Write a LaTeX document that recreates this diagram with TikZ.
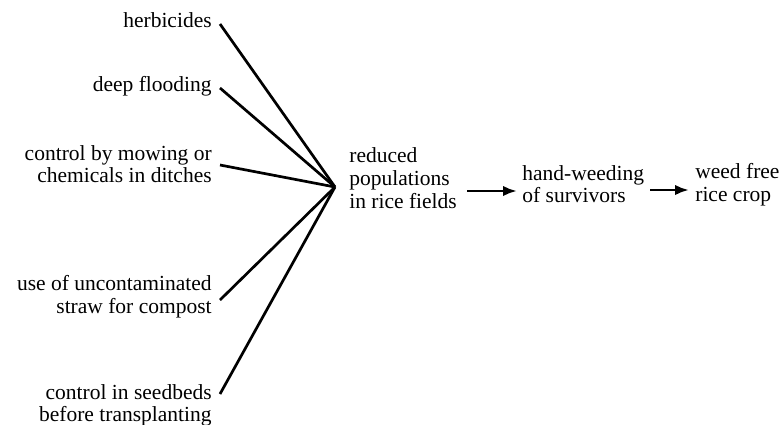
\documentclass[tikz,border=0pt]{standalone}
\usepackage{fontspec}
\setmainfont{Liberation Serif}
\usetikzlibrary{arrows.meta}
\begin{document}
\begin{tikzpicture}[x=1pt,y=-1pt,line width=2.7pt,>={Latex[length=14pt,width=10.5pt]},
font=\fontsize{21.5}{22.7}\selectfont,
cause/.style={anchor=east,align=right,inner xsep=7pt,inner ysep=0pt},
stage/.style={anchor=west,align=left,inner sep=0pt}]
\useasboundingbox (0,0) rectangle (780,424);
% causes on the left
\node[cause] (herb) at (220,20) {herbicides};
\node[cause] (flood) at (220,86) {deep flooding};
\node[cause] (ditch) at (220,164) {control by mowing or\\chemicals in ditches};
\node[cause] (straw) at (220,297) {use of uncontaminated\\straw for compost};
\node[cause] (seed) at (220,405.5) {control in seedbeds\\before transplanting};
\coordinate (hub) at (335,187);
% stages
\node[stage] (red) at (348,178) {reduced\\populations\\in rice fields};
\node[stage] (hand) at (521,184) {hand-weeding\\of survivors};
\node[stage] (free) at (694,185) {weed free\\rice crop};
\draw ([yshift=-4pt]herb.east) -- (hub);
\draw ([yshift=-2pt]flood.east) -- (hub);
\draw ([yshift=-1pt]ditch.east) -- (hub);
\draw ([yshift=-3pt]straw.east) -- (hub);
\draw ([yshift=11.5pt]seed.east) -- (hub);
\draw[->] ([xshift=9pt,yshift=-13pt]red.east) -- ([xshift=-4pt,yshift=-13pt]red.east -| hand.west);
\draw[->] ([xshift=5pt,yshift=-6pt]hand.east) -- ([xshift=-5pt,yshift=-6pt]hand.east -| free.west);
\end{tikzpicture}
\end{document}
